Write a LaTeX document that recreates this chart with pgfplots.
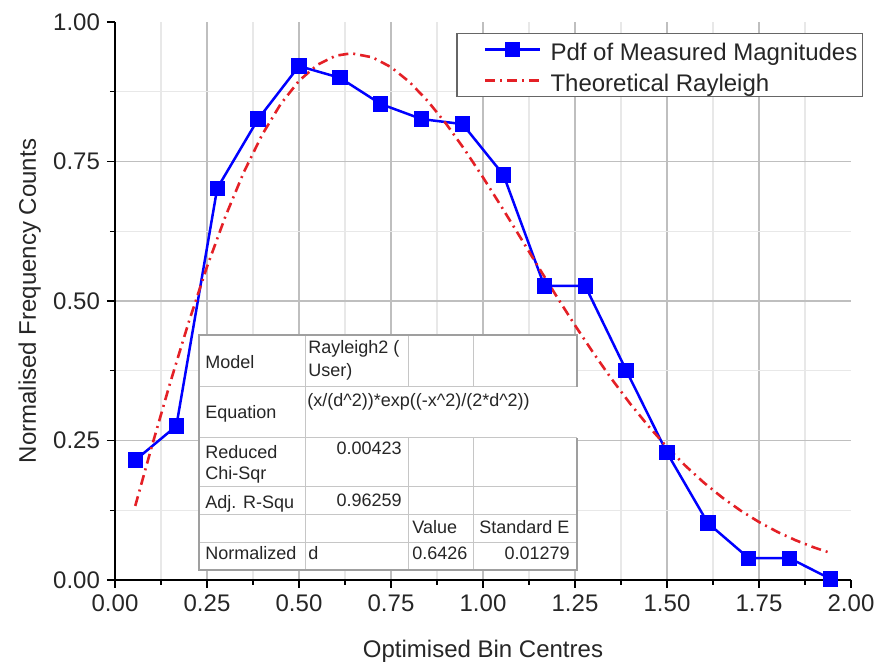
\documentclass[border=0pt]{standalone}
\usepackage{fontspec}
\setmainfont{Liberation Sans}
\usepackage{pgfplots}
\pgfplotsset{compat=1.18}
\definecolor{myblue}{RGB}{0,0,255}
\definecolor{myred}{RGB}{228,32,38}
\begin{document}
\begin{tikzpicture}
\begin{axis}[
  at={(0,0)}, anchor=south west,
  scale only axis, width=368pt, height=279pt,
  xmin=0, xmax=2, ymin=0, ymax=1,
  axis lines*=left,
  axis line style={-, line width=0.75pt, black},
  xtick={0,0.25,0.5,0.75,1,1.25,1.5,1.75},
  ytick={0,0.25,0.5,0.75},
  extra x ticks={2}, extra y ticks={1},
  extra tick style={grid=none},
  minor xtick={0.125,0.375,0.625,0.875,1.125,1.375,1.625,1.875},
  minor ytick={0.125,0.375,0.625,0.875},
  tick align=outside,
  major tick length=4pt, minor tick length=2.5pt,
  tick style={black, line width=0.7pt},
  grid=both,
  major grid style={gray!50, line width=0.9pt},
  minor grid style={gray!18, line width=0.7pt},
  /pgf/number format/fixed, /pgf/number format/fixed zerofill,
  /pgf/number format/precision=2,
  /pgf/number format/assume math mode=true,
  tick label style={font=\fontsize{12}{14}\selectfont, text=black!85},
  xlabel={Optimised Bin Centres},
  ylabel={Normalised Frequency Counts},
  every axis x label/.style={at={(axis description cs:0.5,-0.127)}, anchor=center, font=\fontsize{12}{14}\selectfont, text=black!85},
  every axis y label/.style={at={(axis description cs:-0.116,0.5)}, anchor=center, rotate=90, font=\fontsize{12}{14}\selectfont, text=black!85},
  legend style={at={(rel axis cs:1.0163,0.9803)}, anchor=north east, draw=black!60, line width=0.6pt, fill=white,
    font=\fontsize{12}{14}\selectfont, text=black!85, inner xsep=2.5pt, inner ysep=0.25pt, row sep=0pt,
    cells={anchor=west}, nodes={inner sep=0pt, text height=13pt, text depth=2.5pt},
    /tikz/every odd column/.append style={column sep=4.5pt}},
  legend image code/.code={\path (-11pt,0pt); \draw[mark repeat=2,mark phase=2,#1] plot coordinates {(0pt,0pt) (13.75pt,0pt) (27.5pt,0pt)};},
]
\addplot[myblue, line width=1.25pt, mark=square*, mark size=3.2pt, mark options={solid}] coordinates {
(0.0556,0.215) (0.1667,0.276) (0.2778,0.702) (0.3889,0.826) (0.5000,0.921)
(0.6111,0.900) (0.7222,0.853) (0.8333,0.826) (0.9444,0.817) (1.0556,0.726)
(1.1667,0.527) (1.2778,0.527) (1.3889,0.376) (1.5000,0.228) (1.6111,0.102)
(1.7222,0.039) (1.8333,0.039) (1.9444,0.002)
};
\addlegendentry{Pdf of Measured Magnitudes}
\addplot[myred, line width=1.3pt, dash pattern=on 5pt off 2.5pt on 1pt off 2.5pt] coordinates {
(0.055,0.1327) (0.10,0.2393) (0.15,0.3535) (0.20,0.4614) (0.25,0.5613)
(0.30,0.6515) (0.35,0.7308) (0.40,0.7981) (0.45,0.8528) (0.50,0.8946)
(0.55,0.9234) (0.60,0.9396) (0.6426,0.9439) (0.70,0.9366) (0.75,0.9191)
(0.80,0.8926) (0.85,0.8582) (0.90,0.8174) (0.95,0.7714) (1.00,0.7215)
(1.05,0.6692) (1.10,0.6155) (1.15,0.5615) (1.20,0.5083) (1.25,0.4564)
(1.30,0.4068) (1.35,0.3598) (1.40,0.3159) (1.45,0.2754) (1.50,0.2383)
(1.55,0.2047) (1.60,0.1746) (1.65,0.1479) (1.70,0.1244) (1.75,0.1039)
(1.80,0.0862) (1.85,0.0711) (1.90,0.0582) (1.945,0.0483)
};
\addlegendentry{Theoretical Rayleigh}
\end{axis}
\begin{scope}[x=0.5pt,y=-0.5pt,xshift=-57.5pt,yshift=290pt,
  every node/.style={inner sep=0pt, font=\fontsize{9}{10.8}\selectfont, text=black!85}]
\fill[white] (199,335) rectangle (577,570);
\draw[gray!45, line width=0.5pt] (199,387) -- (577,387) (199,438) -- (577,438) (199,487) -- (577,487)
  (199,515) -- (577,515) (199,543) -- (577,543)
  (305,335) -- (305,570) (408,335) -- (408,387) (473,335) -- (473,387)
  (408,438) -- (408,570) (473,438) -- (473,570);
\draw[gray!75, line width=0.8pt] (577,387) -- (577,335) -- (199,335) -- (199,570) -- (577,570) -- (577,438);
\node[anchor=base west] at (205,368.5) {Model};
\node[anchor=base west] at (308,353.5) {Rayleigh2 (};
\node[anchor=base west] at (308,376.5) {User)};
\node[anchor=base west] at (205,418.5) {Equation};
\node[anchor=base west] at (307,406.5) {(x/(d\textasciicircum 2))*exp((-x\textasciicircum 2)/(2*d\textasciicircum 2))};
\node[anchor=base west] at (205,458.5) {Reduced};
\node[anchor=base west] at (205,479.5) {Chi-Sqr};
\node[anchor=base east] at (402,454.5) {0.00423};
\node[anchor=base west] at (205,508.5) {Adj. R-Squ};
\node[anchor=base east] at (402,506.5) {0.96259};
\node[anchor=base west] at (412,533.5) {Value};
\node[anchor=base west] at (479,533.5) {Standard E};
\node[anchor=base west] at (205,559.5) {Normalized};
\node[anchor=base west] at (308,559.5) {d};
\node[anchor=base west] at (412,559.5) {0.6426};
\node[anchor=base east] at (570,559.5) {0.01279};
\end{scope}
\pgfresetboundingbox
\useasboundingbox (-57.5pt,-44.5pt) rectangle (382pt,290pt);
\end{tikzpicture}
\end{document}
